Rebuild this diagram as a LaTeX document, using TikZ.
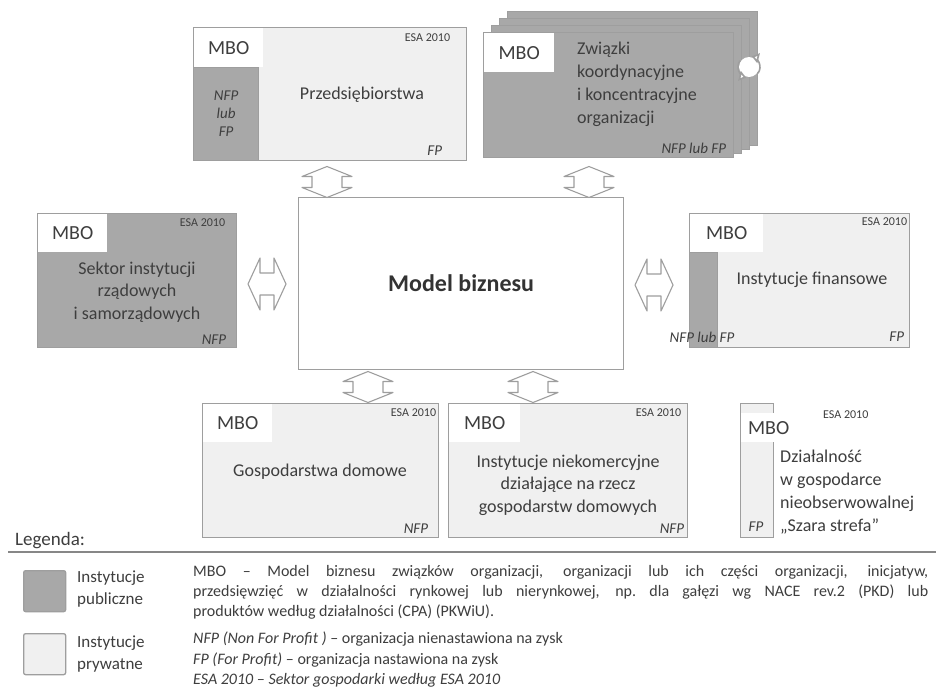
\documentclass[tikz,border=0pt]{standalone}
\usepackage{fontspec}
\setmainfont{Carlito}
\usepackage{tikz}
\usetikzlibrary{arrows.meta,positioning}
\definecolor{pubgray}{RGB}{168,168,168}
\definecolor{privgray}{RGB}{240,240,240}
\definecolor{edgegray}{RGB}{158,158,158}
\definecolor{rulegray}{RGB}{135,135,135}
\definecolor{txtgray}{RGB}{62,62,62}
\newcommand{\fsz}[2]{\fontsize{#1}{#2}\selectfont}

% two-headed block arrow: half length, head half width, head length, shaft half width
\tikzset{
  linkline/.style={draw=edgegray,fill=white,line width=1.1pt,line join=round},
  pics/twoway/.style n args={4}{code={
    \draw[linkline] (-#1,0) -- (-#1+#3,-#2) -- (-#1+#3,-#4) -- (#1-#3,-#4) -- (#1-#3,-#2)
      -- (#1,0) -- (#1-#3,#2) -- (#1-#3,#4) -- (-#1+#3,#4) -- (-#1+#3,#2) -- cycle;}}
}

\begin{document}
\begin{tikzpicture}[x=1pt,y=-1pt,
    every node/.style={text=txtgray},
    sector/.style={draw=edgegray,line width=1.3pt,inner sep=0pt,anchor=north west},
    pub/.style={sector,fill=pubgray},
    priv/.style={sector,fill=privgray},
    mbo/.style={fill=white,inner sep=0pt,anchor=north west,font=\fsz{20}{24}},
    esa/.style={font=\fsz{12}{14},inner sep=0pt},
    lbl/.style={font=\fsz{18}{22.5},align=center,inner sep=0pt},
    kind/.style={font=\fsz{15}{18}\itshape,inner sep=0pt}]
  \useasboundingbox[fill=white] (0,0) rectangle (936,696);

  % --- enterprises
  \node[priv,minimum width=273,minimum height=133] (firm) at (193,27) {};
  \node[pub,minimum width=65,minimum height=93] (firmstrip) at (193,67) {};
  \node[mbo,minimum width=69,minimum height=39] (firmmbo) at (194,28) {MBO};
  \node[esa,below left=7pt and 17pt of firm.north east] (firmesa) {ESA 2010};
  \node[kind,align=center] (firmkind) at (firmstrip.center) {NFP\\lub\\FP};
  \node[lbl] (firmlbl) at (362,95) {Przedsiębiorstwa};
  \node[kind,above left=6pt and 25pt of firm.south east] (firmfp) {FP};

  % --- unions (stacked)
  \foreach \d/\h in {3/134,2/131,1/128}
    \node[pub,minimum width=250,minimum height=\h] (stack\d) at (483+8*\d,32-7*\d) {};
  \node[pub,minimum width=250,minimum height=125] (union) at (483,32) {};
  \node[mbo,minimum width=70,minimum height=39] (unionmbo) at (484,33) {MBO};
  \node[lbl,align=left,anchor=west,font=\fsz{18}{23}] (unionlbl) at (577,84)
    {Związki\\koordynacyjne\\i koncentracyjne\\organizacji};
  \node[kind,above left=5pt and 8pt of union.south east] (unionkind) {NFP lub FP};
  % cycle mark on the stack edge
  \fill[white] (749,67) circle (10);
  \draw[edgegray,line width=1.6pt,-{Triangle[length=7pt,width=10pt,open,fill=white]}]
    (749,67) ++(215:11) arc[start angle=215,end angle=105,radius=11];
  \draw[edgegray,line width=1.6pt,-{Triangle[length=7pt,width=10pt,open,fill=white]}]
    (749,67) ++(35:11) arc[start angle=35,end angle=-75,radius=11];

  % --- business model
  \node[draw=edgegray,line width=1.3pt,fill=white,inner sep=0pt,anchor=north west,
        minimum width=325,minimum height=172,font=\fsz{24}{28}\bfseries,text=black!80]
    (model) at (298,197) {Model biznesu};

  % --- government
  \node[pub,minimum width=199,minimum height=134] (gov) at (37,213) {};
  \node[mbo,minimum width=69,minimum height=38] (govmbo) at (38,214) {MBO};
  \node[esa,below left=6pt and 12pt of gov.north east] (govesa) {ESA 2010};
  \node[lbl] (govlbl) at (137,292) {Sektor instytucji\\rządowych\\i samorządowych};
  \node[kind,above left=4pt and 11pt of gov.south east] (govkind) {NFP};

  % --- financial institutions
  \node[priv,minimum width=220,minimum height=134] (fin) at (689,213) {};
  \node[pub,minimum width=28,minimum height=95] (finstrip) at (689,252) {};
  \node[mbo,minimum width=73,minimum height=38] (finmbo) at (690,214) {MBO};
  \node[esa,below left=5pt and 3pt of fin.north east] (finesa) {ESA 2010};
  \node[lbl] (finlbl) at (812,280) {Instytucje finansowe};
  \node[kind,above left=7pt and 6pt of fin.south east] (finfp) {FP};
  \node[kind] (finkind) at (702,337) {NFP lub FP};

  % --- households
  \node[priv,minimum width=236,minimum height=134] (house) at (202,403) {};
  \node[mbo,minimum width=69,minimum height=38] (housembo) at (203,404) {MBO};
  \node[esa,below left=6pt and 3pt of house.north east] (houseesa) {ESA 2010};
  \node[lbl] (houselbl) at (320,472) {Gospodarstwa domowe};
  \node[kind,above left=5pt and 11pt of house.south east] (housekind) {NFP};

  % --- non-profit institutions
  \node[priv,minimum width=239,minimum height=134] (npish) at (448,403) {};
  \node[mbo,minimum width=71,minimum height=38] (npishmbo) at (449,404) {MBO};
  \node[esa,below left=6pt and 7pt of npish.north east] (npishesa) {ESA 2010};
  \node[lbl] (npishlbl) at (568,485)
    {Instytucje niekomercyjne\\działające na rzecz\\gospodarstw domowych};
  \node[kind,above left=5pt and 4pt of npish.south east] (npishkind) {NFP};

  % --- grey zone
  \node[priv,minimum width=33,minimum height=134] (grey) at (740,403) {};
  \node[mbo,minimum width=55,minimum height=29] (greymbo) at (741,413) {MBO};
  \node[esa,anchor=west] (greyesa) at (823,415) {ESA 2010};
  \node[lbl,align=left,anchor=west,font=\fsz{18}{23}] (greylbl) at (780,492)
    {Działalność\\w gospodarce\\nieobserwowalnej\\„Szara strefa”};
  \node[kind] (greyfp) at (756,527) {FP};

  % --- links to the model
  \pic[rotate=90] (lnkfirm) at (327,182) {twoway={15.5}{25}{10}{15}};
  \pic[rotate=90] (lnkunion) at (589,182) {twoway={15.5}{25}{10}{15}};
  \pic (lnkgov) at (267,284) {twoway={19}{26}{12}{11}};
  \pic (lnkfin) at (654,285) {twoway={19}{26}{12}{11}};
  \pic[rotate=90] (lnkhouse) at (368,387) {twoway={15.5}{25}{10}{15}};
  \pic[rotate=90] (lnknpish) at (533,387) {twoway={15.5}{25}{10}{15}};

  % --- legend
  \node[font=\fsz{19}{22},anchor=base west,inner sep=0pt] (legtitle) at (15,545) {Legenda:};
  \draw[rulegray,line width=1.5pt] (8,552) -- (936,552);
  \node[pub,rounded corners=2pt,minimum width=42,minimum height=41] (swpub) at (23,570) {};
  \node[priv,rounded corners=2pt,minimum width=42,minimum height=41] (swpriv) at (23,633) {};
  \node[font=\fsz{17}{22},align=left,anchor=west,inner sep=0pt] (swpublbl) at (77,589)
    {Instytucje\\publiczne};
  \node[font=\fsz{17}{22},align=left,anchor=west,inner sep=0pt] (swprivlbl) at (77,654)
    {Instytucje\\prywatne};
  \node[font=\fsz{16}{20},text width=735,align=justify,anchor=north west,inner sep=0pt]
    (legmbo) at (193,565)
    {MBO -- Model biznesu związków organizacji, organizacji lub ich części organizacji, inicjatyw,\linebreak
     przedsięwzięć w działalności rynkowej lub nierynkowej, np.\ dla gałęzi wg NACE rev.2 (PKD) lub\linebreak
     produktów według działalności (CPA) (PKWiU).};
  \node[font=\fsz{16}{20.5},align=left,anchor=north west,inner sep=0pt] (legkinds) at (193,632)
    {\textit{NFP (Non For Profit )} -- organizacja nienastawiona na zysk\\
     \textit{FP (For Profit)} -- organizacja nastawiona na zysk\\
     \textit{ESA 2010 -- Sektor gospodarki według ESA 2010}};
\end{tikzpicture}
\end{document}
